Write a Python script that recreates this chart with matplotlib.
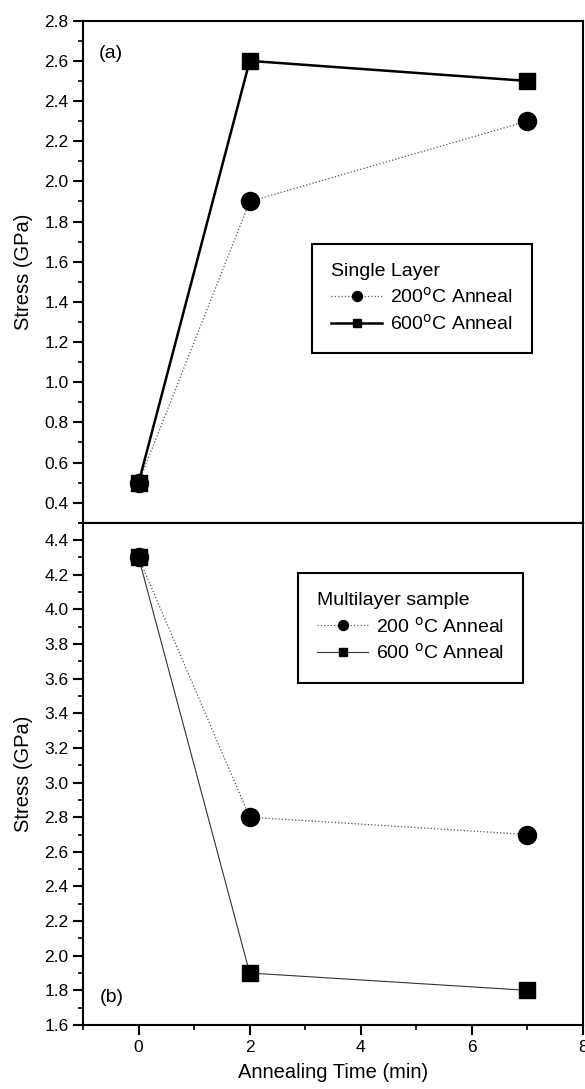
import matplotlib
matplotlib.use("Agg")
import matplotlib.pyplot as plt
from matplotlib.ticker import MultipleLocator

plt.rcParams['font.family'] = ['Liberation Sans', 'DejaVu Sans']

# tempos de recozimento (min)
time_min = [0, 2, 7]

# (a) camada simples
single_200 = [0.5, 1.9, 2.3]
single_600 = [0.5, 2.6, 2.5]

# (b) multicamada
multi_200 = [4.3, 2.8, 2.7]
multi_600 = [4.3, 1.9, 1.8]

fig, (ax1, ax2) = plt.subplots(2, 1, figsize=(5.85, 10.89), dpi=100, sharex=True)
fig.subplots_adjust(left=0.142, right=0.9966, top=0.981, bottom=0.0588, hspace=0)

# painel de cima
ax1.plot(time_min, single_200, color='#555555', linestyle=':', linewidth=0.9,
         marker='o', markersize=13, markerfacecolor='black', markeredgecolor='black',
         label='200$^{\\mathrm{o}}$C Anneal')
ax1.plot(time_min, single_600, color='black', linestyle='-', linewidth=1.8,
         marker='s', markersize=11, markerfacecolor='black', markeredgecolor='black',
         label='600$^{\\mathrm{o}}$C Anneal')
ax1.set_ylim(0.3, 2.8)
ax1.yaxis.set_major_locator(MultipleLocator(0.2))
ax1.yaxis.set_minor_locator(MultipleLocator(0.1))
ax1.set_ylabel('Stress (GPa)', fontsize=14.5)
ax1.text(0.031, 0.934, '(a)', transform=ax1.transAxes, fontsize=14, va='center')
leg1 = ax1.legend(loc='upper left', bbox_to_anchor=(0.458, 0.556), title='Single Layer',
                  fontsize=14, title_fontsize=14, fancybox=False, edgecolor='black',
                  framealpha=1, handlelength=2.6, markerscale=0.55, borderpad=1.0,
                  borderaxespad=0, labelspacing=0.35, handletextpad=0.4)
leg1._legend_box.align = 'left'
leg1.get_frame().set_linewidth(1.5)

# painel de baixo
ax2.plot(time_min, multi_200, color='#555555', linestyle=':', linewidth=0.9,
         marker='o', markersize=13, markerfacecolor='black', markeredgecolor='black',
         label='200 $^{\\mathrm{o}}$C Anneal')
ax2.plot(time_min, multi_600, color='#333333', linestyle='-', linewidth=0.8,
         marker='s', markersize=11, markerfacecolor='black', markeredgecolor='black',
         label='600 $^{\\mathrm{o}}$C Anneal')
ax2.set_ylim(1.6, 4.5)
ax2.yaxis.set_major_locator(MultipleLocator(0.2))
ax2.yaxis.set_minor_locator(MultipleLocator(0.1))
ax2.set_ylabel('Stress (GPa)', fontsize=14.5)
ax2.text(0.033, 0.054, '(b)', transform=ax2.transAxes, fontsize=14, va='center')
leg2 = ax2.legend(loc='upper left', bbox_to_anchor=(0.43, 0.9), title='Multilayer sample',
                  fontsize=14, title_fontsize=14, fancybox=False, edgecolor='black',
                  framealpha=1, handlelength=2.6, markerscale=0.55, borderpad=1.0,
                  borderaxespad=0, labelspacing=0.35, handletextpad=0.4)
leg2._legend_box.align = 'left'
leg2.get_frame().set_linewidth(1.5)

ax2.set_xlim(-1, 8)
ax2.xaxis.set_major_locator(MultipleLocator(2))
ax2.xaxis.set_minor_locator(MultipleLocator(1))
ax2.set_xlabel('Annealing Time (min)', fontsize=14.5, labelpad=6)

for ax in (ax1, ax2):
    for s in ax.spines.values():
        s.set_linewidth(1.5)
    ax.tick_params(which='major', direction='out', length=7, width=1.5, labelsize=12.5)
    ax.tick_params(which='minor', direction='out', length=3.5, width=1.2)
    ax.tick_params(axis='y', which='both', right=False)
    ax.yaxis.set_label_coords(-0.10, 0.5)
ax1.tick_params(axis='x', which='both', bottom=False, labelbottom=False)
ax2.tick_params(axis='x', which='both', top=False)

fig.savefig('out.png', dpi=100)
